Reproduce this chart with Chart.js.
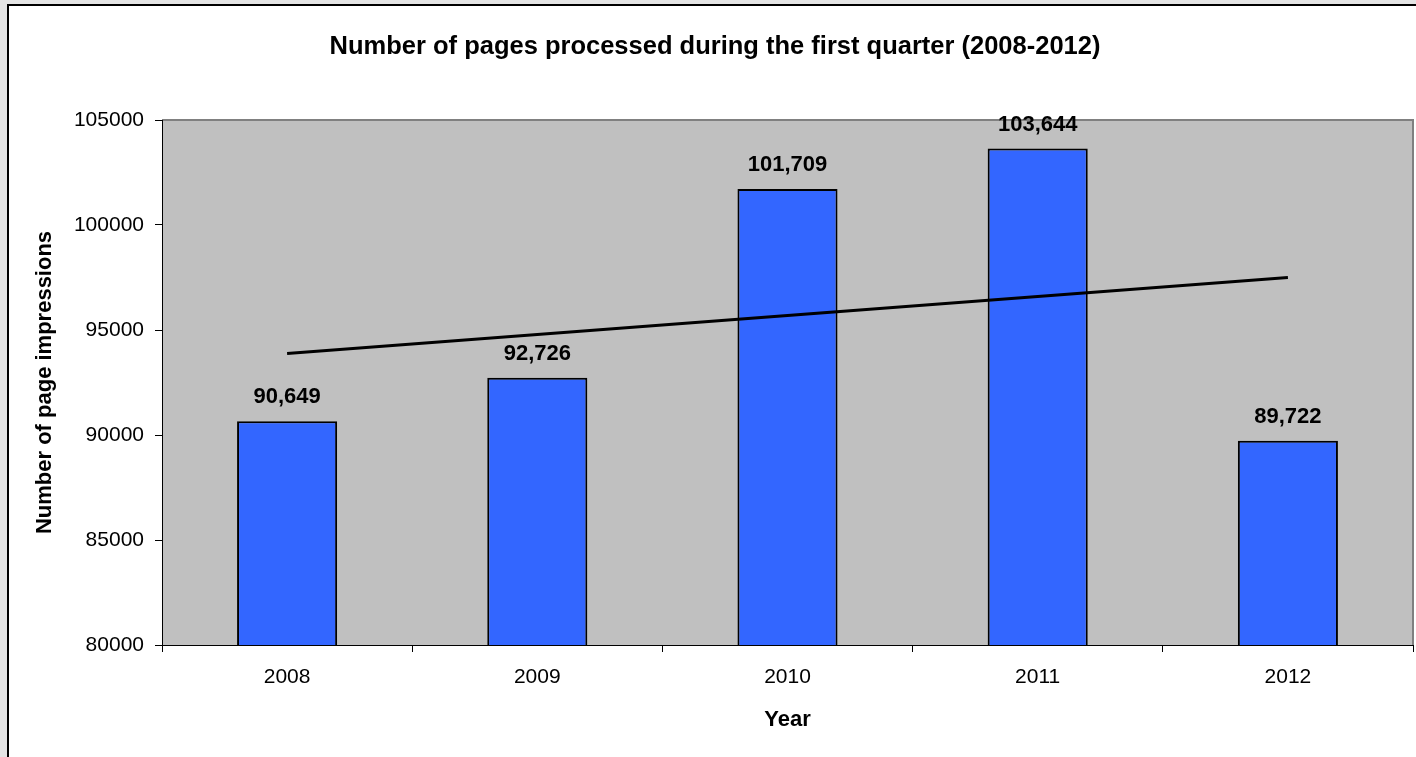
<!DOCTYPE html>
<html lang="en">
<head>
    <meta charset="UTF-8">
    <script src="https://cdn.jsdelivr.net/npm/chart.js"></script>
    <style>
        html, body { margin: 0; padding: 0; overflow: hidden; background: #e4e4e4; }
        .panel {
            position: absolute; left: 7px; top: 4px;
            width: 1420px; height: 760px;
            background: #fff;
            border-left: 2px solid #000;
            border-top: 2px solid #000;
        }
        #pagesChart { display: block; }
    </style>
</head>
<body>
    <div class="panel">
        <canvas id="pagesChart" width="1420" height="751"></canvas>
    </div>
    <script>
        // chart data
        const years = ['2008', '2009', '2010', '2011', '2012'];
        const pageImpressions = [90649, 92726, 101709, 103644, 89722];
        // linear trend line, end points
        const trendValues = [93880, null, null, null, 97500];

        const chartTitle = 'Number of pages processed during the first quarter (2008-2012)';
        const FONT = "'Liberation Sans', Arial, sans-serif";

        // gray plot area with its frame, plus the main title
        const plotBackground = {
            id: 'plotBackground',
            beforeDraw(chart) {
                const { ctx, chartArea: a } = chart;
                ctx.save();
                ctx.fillStyle = '#c0c0c0';
                ctx.fillRect(a.left, a.top, a.right - a.left, a.bottom - a.top);
                ctx.strokeStyle = '#808080';
                ctx.lineWidth = 2;
                ctx.beginPath();
                ctx.moveTo(a.left, a.top);
                ctx.lineTo(a.right, a.top);
                ctx.lineTo(a.right, a.bottom);
                ctx.stroke();
                ctx.restore();
            },
            afterDraw(chart) {
                const ctx = chart.ctx;
                ctx.save();
                ctx.font = 'bold 25.5px ' + FONT;
                ctx.fillStyle = '#000';
                ctx.textAlign = 'center';
                ctx.textBaseline = 'alphabetic';
                ctx.fillText(chartTitle, 706, 48);
                ctx.restore();
            }
        };

        // value labels above the bars (bar dataset is index 1)
        const barLabels = {
            id: 'barLabels',
            afterDatasetsDraw(chart) {
                const ctx = chart.ctx;
                const meta = chart.getDatasetMeta(1);
                ctx.save();
                ctx.font = 'bold 22px ' + FONT;
                ctx.fillStyle = '#000';
                ctx.textAlign = 'center';
                ctx.textBaseline = 'middle';
                meta.data.forEach((bar, i) => {
                    ctx.fillText(pageImpressions[i].toLocaleString('en-US'), bar.x, bar.y - 24);
                });
                ctx.restore();
            }
        };

        new Chart(document.getElementById('pagesChart'), {
            type: 'bar',
            data: {
                labels: years,
                datasets: [{
                    type: 'line',
                    label: 'Trend',
                    data: trendValues,
                    borderColor: '#000',
                    borderWidth: 3,
                    pointRadius: 0,
                    spanGaps: true,
                    fill: false,
                    order: 0
                }, {
                    label: 'Pages',
                    data: pageImpressions,
                    backgroundColor: '#3366ff',
                    borderColor: '#000',
                    borderWidth: 2,
                    borderSkipped: false,
                    barPercentage: 0.4,
                    categoryPercentage: 1,
                    order: 1
                }]
            },
            options: {
                responsive: false,
                animation: false,
                layout: { padding: { top: 114, right: 16, bottom: 12, left: 10 } },
                plugins: {
                    legend: { display: false },
                    title: { display: false },
                    tooltip: { enabled: false }
                },
                scales: {
                    x: {
                        grid: { offset: true, drawOnChartArea: false, color: '#000', tickLength: 7 },
                        border: { color: '#000', width: 1 },
                        ticks: { color: '#000', padding: 13, font: { family: FONT, size: 21 } },
                        title: {
                            display: true, text: 'Year', color: '#000',
                            padding: { top: 0, bottom: 12 },
                            font: { family: FONT, size: 22, weight: 'bold' }
                        },
                        afterFit(scale) { scale.height = 100; }
                    },
                    y: {
                        min: 80000,
                        max: 105000,
                        grid: { drawOnChartArea: false, color: '#000', tickLength: 7 },
                        border: { color: '#000', width: 1 },
                        ticks: {
                            stepSize: 5000, color: '#000', padding: 11,
                            font: { family: FONT, size: 21 },
                            callback: v => String(v)
                        },
                        title: {
                            display: true, text: 'Number of page impressions', color: '#000',
                            padding: { top: 13, bottom: 0 },
                            font: { family: FONT, size: 22, weight: 'bold' }
                        },
                        afterFit(scale) { scale.width = 143; }
                    }
                }
            },
            plugins: [plotBackground, barLabels]
        });
    </script>
</body>
</html>
